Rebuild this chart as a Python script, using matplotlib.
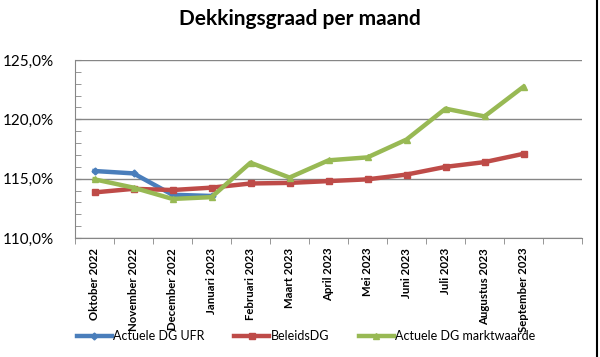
import numpy as np
import matplotlib
matplotlib.use("Agg")
import matplotlib.pyplot as plt
from matplotlib.ticker import FixedLocator, FuncFormatter

plt.rcParams["font.family"] = ["Lato", "DejaVu Sans"]

months = ["Oktober 2022", "November 2022", "December 2022", "Januari 2023",
          "Februari 2023", "Maart 2023", "April 2023", "Mei 2023",
          "Juni 2023", "Juli 2023", "Augustus 2023", "September 2023"]

dg_ufr = [115.65, 115.45, 113.65, 113.55]
beleids_dg = [113.85, 114.15, 114.05, 114.25, 114.6, 114.65,
              114.8, 114.95, 115.35, 116.0, 116.4, 117.1]
dg_markt = [114.95, 114.25, 113.3, 113.45, 116.35, 115.1,
            116.55, 116.8, 118.3, 120.9, 120.25, 122.75]

BLUE = "#4a7ebb"
RED = "#be4b48"
GREEN = "#98b954"

fig = plt.figure(figsize=(6.0, 3.57), dpi=100)
ax = fig.add_axes([0.125, 0.333, 0.845, 0.499])

x = np.arange(len(months))
ax.plot(x[:len(dg_ufr)], dg_ufr, color=BLUE, lw=3.2, marker="D", ms=3.5,
        label="Actuele DG UFR", zorder=3, solid_joinstyle="round")
ax.plot(x, beleids_dg, color=RED, lw=3.2, marker="s", ms=5,
        label="BeleidsDG", zorder=4, solid_joinstyle="round")
ax.plot(x, dg_markt, color=GREEN, lw=3.2, marker="^", ms=4,
        label="Actuele DG marktwaarde", zorder=5, solid_joinstyle="round")

# 13 category slots, last one empty
ax.set_xlim(-0.5, len(months) + 0.5)
ax.set_ylim(110, 125)

ax.set_xticks(x)
ax.set_xticklabels(months, rotation=90, fontsize=8.2, fontweight="bold",
                   va="top")
ax.tick_params(axis="x", which="major", length=0, pad=7)
ax.xaxis.set_minor_locator(FixedLocator(np.arange(-0.5, len(months) + 1, 1.0)))
ax.tick_params(axis="x", which="minor", length=4, direction="out",
               color="#868686")

ax.set_yticks([110, 115, 120, 125])
ax.yaxis.set_major_formatter(FuncFormatter(lambda v, p: f"{v:.1f}%".replace(".", ",")))
ax.yaxis.set_minor_locator(FixedLocator(np.arange(110, 126, 1)))
ax.tick_params(axis="y", which="both", length=4, direction="in",
               color="#868686", labelsize=11, pad=15)

ax.grid(axis="y", which="major", color="#868686", lw=1)
ax.set_axisbelow(True)
for side in ("top", "right"):
    ax.spines[side].set_visible(False)
for side in ("left", "bottom"):
    ax.spines[side].set_color("#868686")

fig.suptitle("Dekkingsgraad per maand", x=0.5, y=0.975, fontsize=15,
             fontweight="bold")

fig.legend(loc="center", bbox_to_anchor=(0.51, 0.059), ncol=3, frameon=False,
           fontsize=9, handlelength=2.8, columnspacing=2.4,
           handletextpad=0.1)

# dark border on the right edge, as in the source screenshot
fig.add_artist(plt.Line2D([0.995, 0.995], [0, 1], color="black", lw=1.5,
                          transform=fig.transFigure))

fig.savefig("out.png", dpi=100)
